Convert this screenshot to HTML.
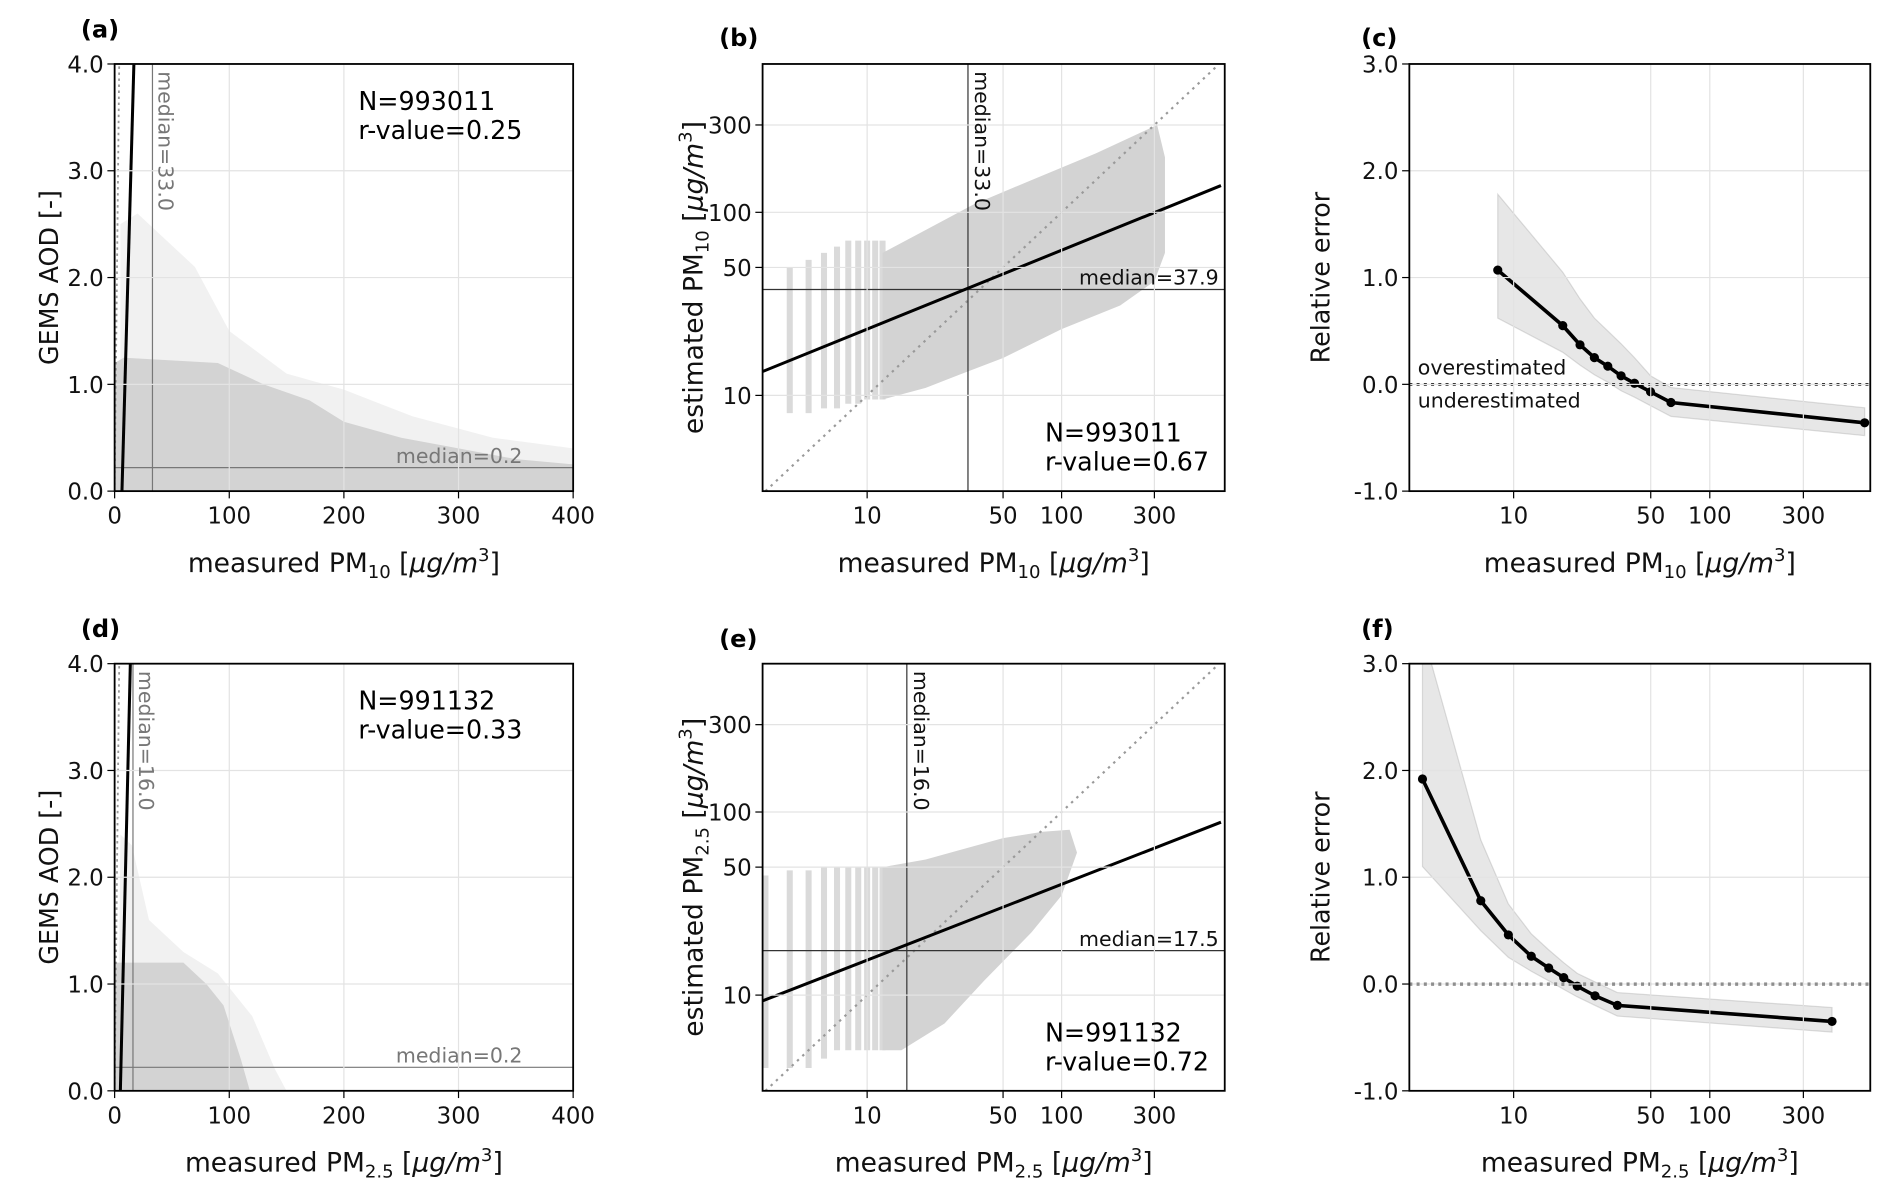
<!DOCTYPE html>
<html><head><meta charset="utf-8"><style>
html,body{margin:0;padding:0;background:#fff}
svg{display:block;font-family:"DejaVu Sans","Liberation Sans",sans-serif}
</style></head><body>
<svg id="fig" width="1892" height="1198" viewBox="0 0 1568 992.8" xmlns="http://www.w3.org/2000/svg"></svg>
<script>
// ---------- data ----------
const relXPm10 = [8.3, 17.8, 21.8, 25.8, 30.2, 35.3, 41.3, 49.9, 63.4, 616];
const relYPm10 = [1.07, 0.55, 0.37, 0.25, 0.17, 0.08, 0.01, -0.07, -0.17, -0.36];
const relUpPm10 = [1.78, 1.05, 0.8, 0.62, 0.5, 0.38, 0.25, 0.08, -0.03, -0.22];
const relLoPm10 = [0.62, 0.3, 0.18, 0.09, 0.02, -0.06, -0.12, -0.2, -0.3, -0.48];
const relXPm25 = [3.43, 6.8, 9.4, 12.3, 15.1, 18, 21.1, 26, 33.8, 420];
const relYPm25 = [1.92, 0.78, 0.46, 0.26, 0.15, 0.06, -0.02, -0.11, -0.2, -0.35];
const relUpPm25 = [3.3, 1.35, 0.75, 0.47, 0.32, 0.2, 0.1, 0.02, -0.08, -0.22];
const relLoPm25 = [1.1, 0.5, 0.25, 0.12, 0.03, -0.05, -0.12, -0.2, -0.3, -0.45];
const cloudA = [[0,0],[0,1.2],[8,1.25],[90,1.2],[130,1.0],[170,0.85],[200,0.65],[250,0.5],[300,0.4],[350,0.3],[400,0.25],[400,0]];
const fringeA = [[5,0],[5,2.5],[20,2.6],[40,2.4],[70,2.1],[100,1.5],[150,1.1],[200,0.95],[260,0.7],[330,0.5],[400,0.4],[400,0]];
const cloudD = [[0,0],[0,1.2],[60,1.2],[80,1.0],[95,0.8],[110,0.3],[118,0]];
const fringeD = [[3,0],[5,2.4],[15,2.3],[30,1.6],[60,1.3],[90,1.1],[120,0.7],[140,0.2],[150,0]];
const cloudB = [[12,9.5],[12,60],[20,80],[35,110],[70,150],[150,210],[250,270],[310,300],[340,200],[340,60],[300,42],[200,31],[100,23],[50,16],[30,13],[20,11]];
const cloudE = [[12,5],[12,50],[20,55],[30,62],[50,72],[80,78],[110,80],[120,60],[100,35],[70,22],[40,12],[25,7],[15,5]];
const stripeXB = [4,5,6,7,8,9,10,11,12];
const stripeTopB = [50,55,60,65,70,70,70,70,70];
const stripeBotB = [8,8,8.5,8.5,9,9,9.5,9.5,9.5];
const stripeXE = [3,4,5,6,7,8,9,10,11,12];
const stripeTopE = [45,48,48,50,50,50,50,50,50,50];
const stripeBotE = [4,4,4,4.5,5,5,5,5,5,5];
const linTicks = [0,100,200,300,400];
const aodTicks = [0,1,2,3,4];
const logTicks = [10,50,100,300];
const relTicks = [-1,0,1,2,3];
const regA = [[6.4,0],[16.8,4]];
const regD = [[5,0],[13.7,4]];
const regB = [[2.9,13.5],[660,140]];
const regE = [[2.9,9.3],[660,88]];
const medB = [33, 37.9];
const medE = [16, 17.5];
const medA = [33, 0.22];
const medD = [16, 0.22];

const NS = "http://www.w3.org/2000/svg";
const svg = document.getElementById('fig');
function mk(tag, attrs, parent){
  const e = document.createElementNS(NS, tag);
  for (const k in attrs) e.setAttribute(k, attrs[k]);
  (parent||svg).appendChild(e);
  return e;
}
function linScale(d0,d1,r0,r1){return v=>r0+(v-d0)/(d1-d0)*(r1-r0);}
function logScale(d0,d1,r0,r1){return v=>r0+(Math.log10(v)-Math.log10(d0))/(Math.log10(d1)-Math.log10(d0))*(r1-r0);}

function pmLabel(g, x, y, pre, sub, rotate){
  const t = mk('text',{x:x,y:y,'font-size':22,'text-anchor':'middle',fill:'#111'},g);
  if (rotate) t.setAttribute('transform','rotate(-90 '+x+' '+y+')');
  t.appendChild(document.createTextNode(pre+'PM'));
  const s = mk('tspan',{'font-size':15,dy:5},t); s.textContent = sub;
  const r = mk('tspan',{dy:-5},t); r.textContent=' [';
  const it = mk('tspan',{'font-style':'italic'},t); it.textContent='μg/m';
  const sp = mk('tspan',{'font-size':15,dy:-9},t); sp.textContent='3';
  const e = mk('tspan',{dy:9},t); e.textContent=']';
  return t;
}

function axesFrame(g, L,R,T,B){
  mk('rect',{x:L,y:T,width:R-L,height:B-T,fill:'none',stroke:'#000','stroke-width':1.5},g);
}
function gridX(g,sx,ticks,T,B,labels){
  ticks.forEach((v,i)=>{
    const x=sx(v);
    const gl=mk('line',{x1:x,x2:x,y1:T,y2:B,stroke:'#e3e3e3','stroke-width':1},g);
    
    
    mk('line',{x1:x,x2:x,y1:B,y2:B+6,stroke:'#000','stroke-width':1},g);
    const t=mk('text',{x:x,y:B+27,'font-size':19,'text-anchor':'middle',fill:'#111'},g);
    
    
    t.textContent=labels[i];
  });
}
function gridY(g,sy,ticks,L,R,labels){
  ticks.forEach((v,i)=>{
    const y=sy(v);
    const gl=mk('line',{x1:L,x2:R,y1:y,y2:y,stroke:'#e3e3e3','stroke-width':1},g);
    
    
    mk('line',{x1:L-6,x2:L,y1:y,y2:y,stroke:'#000','stroke-width':1},g);
    const t=mk('text',{x:L-9,y:y+7,'font-size':19,'text-anchor':'end',fill:'#111'},g);
    
    
    t.textContent=labels[i];
  });
}
function poly(g,pts,sx,sy,fill){
  return mk('polygon',{points:pts.map(p=>sx(p[0])+','+sy(p[1])).join(' '),fill:fill},g);
}
function panelLabel(x,y,txt){
  const t=mk('text',{x:x,y:y,'font-size':20,'font-weight':'bold',fill:'#000'});
  
  
  t.textContent=txt;
}
function stats(g,x,y,n,r){
  const t1=mk('text',{x:x,y:y,'font-size':21,fill:'#000'},g); t1.textContent='N='+n;
  
  
  const t2=mk('text',{x:x,y:y+24,'font-size':21,fill:'#000'},g); t2.textContent='r-value='+r;
  
  
}

// ---------- AOD panels (a, d) ----------
function aodPanel(name,T,B,cloud,fringe,reg,med,n,r,sub){
  const L=95,R=475;
  const g=mk('g',{});
  
  
  const sx=linScale(0,400,L,R), sy=linScale(0,4,B,T);
  const cp=mk('clipPath',{id:'clip-'+name},g); mk('rect',{x:L,y:T,width:R-L,height:B-T},cp);
  const inner=mk('g',{'clip-path':'url(#clip-'+name+')'},g);
  gridX(g,sx,linTicks,T,B,linTicks.map(String));
  gridY(g,sy,aodTicks,L,R,aodTicks.map(v=>v.toFixed(1)));
  const f=poly(inner,fringe,sx,sy,'#f1f1f1');
  
  
  const c=poly(inner,cloud,sx,sy,'#d3d3d3');
  
  
  const one=mk('line',{x1:sx(0),y1:sy(0),x2:sx(4),y2:sy(4),stroke:'#999','stroke-width':1.5,'stroke-dasharray':'2,3'},inner);
  
  
  const mv=mk('line',{x1:sx(med[0]),x2:sx(med[0]),y1:T,y2:B,stroke:'#777','stroke-width':1},inner);
  
  
  const mh=mk('line',{x1:L,x2:R,y1:sy(med[1]),y2:sy(med[1]),stroke:'#777','stroke-width':1},inner);
  
  
  const rl=mk('line',{x1:sx(reg[0][0]),y1:sy(reg[0][1]),x2:sx(reg[1][0]),y2:sy(reg[1][1]),stroke:'#000','stroke-width':2.5},inner);
  
  
  const mxl=sx(med[0])+5, myl=T+6;
  const t=mk('text',{x:mxl,y:myl,'font-size':17,fill:'#777',transform:'rotate(90 '+mxl+' '+myl+')'},g);
  
  
  t.textContent='median='+med[0].toFixed(1);
  const t2=mk('text',{x:433,y:sy(med[1])-4,'font-size':17,fill:'#777','text-anchor':'end'},g);
  
  
  t2.textContent='median=0.2';
  axesFrame(g,L,R,T,B);
  stats(g,297,T+38,n,r);
  const yl=mk('text',{x:48,y:(T+B)/2,'font-size':21,'text-anchor':'middle',fill:'#111',transform:'rotate(-90 48 '+((T+B)/2)+')'},g);
  
  
  yl.textContent='GEMS AOD [-]';
  const xl=pmLabel(g,(L+R)/2,B+67,'measured ',sub,false);
  
  
}

// ---------- log-log panels (b, e) ----------
function estPanel(name,T,B,cloud,sx_,stTop,stBot,stX,reg,med,n,r,sub){
  const L=632,R=1015;
  const g=mk('g',{});
  
  
  const sx=logScale(2.9,690,L,R), sy=logScale(3.0,646,B,T);
  const cp=mk('clipPath',{id:'clip-'+name},g); mk('rect',{x:L,y:T,width:R-L,height:B-T},cp);
  const inner=mk('g',{'clip-path':'url(#clip-'+name+')'},g);
  gridX(g,sx,logTicks,T,B,logTicks.map(String));
  gridY(g,sy,logTicks,L,R,logTicks.map(String));
  stX.forEach((xv,i)=>{
    const s=mk('line',{x1:sx(xv),x2:sx(xv),y1:sy(stBot[i]),y2:sy(stTop[i]),stroke:'#dadada','stroke-width':5},inner);
    
    
  });
  const c=poly(inner,cloud,sx,sy,'#d3d3d3');
  
  
  const one=mk('line',{x1:sx(3),y1:sy(3),x2:sx(640),y2:sy(640),stroke:'#999','stroke-width':1.8,'stroke-dasharray':'2,4'},inner);
  
  
  const mv=mk('line',{x1:sx(med[0]),x2:sx(med[0]),y1:T,y2:B,stroke:'#333','stroke-width':1},inner);
  
  
  const mh=mk('line',{x1:L,x2:R,y1:sy(med[1]),y2:sy(med[1]),stroke:'#333','stroke-width':1},inner);
  
  
  const rl=mk('line',{x1:sx(reg[0][0]),y1:sy(reg[0][1]),x2:sx(reg[1][0]),y2:sy(reg[1][1]),stroke:'#000','stroke-width':2.5},inner);
  
  
  const mxl=sx(med[0])+6, myl=T+6;
  const t=mk('text',{x:mxl,y:myl,'font-size':17,fill:'#111',transform:'rotate(90 '+mxl+' '+myl+')'},g);
  
  
  t.textContent='median='+med[0].toFixed(1);
  const t2=mk('text',{x:1010,y:sy(med[1])-4,'font-size':17,fill:'#111','text-anchor':'end'},g);
  
  
  t2.textContent='median='+med[1].toFixed(1);
  axesFrame(g,L,R,T,B);
  stats(g,866,B-41,n,r);
  const yl=pmLabel(g,582,(T+B)/2,'estimated ',sub,true);
  
  
  const xl=pmLabel(g,(L+R)/2,B+67,'measured ',sub,false);
  
  
}

// ---------- relative error panels (c, f) ----------
function relPanel(name,T,B,xs,ys,up,lo,sub,showText){
  const L=1168,R=1550;
  const g=mk('g',{});
  
  
  const sx=logScale(2.94,658,L,R), sy=linScale(-1,3,B,T);
  const cp=mk('clipPath',{id:'clip-'+name},g); mk('rect',{x:L,y:T,width:R-L,height:B-T},cp);
  const inner=mk('g',{'clip-path':'url(#clip-'+name+')'},g);
  gridX(g,sx,logTicks,T,B,logTicks.map(String));
  gridY(g,sy,relTicks,L,R,relTicks.map(v=>v.toFixed(1)));
  const band=xs.map((x,i)=>[x,up[i]]).concat(xs.map((x,i)=>[x,lo[i]]).reverse());
  const b=poly(inner,band,sx,sy,'rgba(160,160,160,0.25)');
  b.setAttribute('stroke','rgba(150,150,150,0.3)');
  
  
  const z=mk('line',{x1:L,x2:R,y1:sy(0),y2:sy(0),stroke:'#000','stroke-width':2.2,'stroke-dasharray':'2.5,3.5'},inner);
  
  
  const pl=mk('polyline',{points:xs.map((x,i)=>sx(x)+','+sy(ys[i])).join(' '),fill:'none',stroke:'#000','stroke-width':3},inner);
  
  
  xs.forEach((x,i)=>{
    const c=mk('circle',{cx:sx(x),cy:sy(ys[i]),r:3.8,fill:'#000'},inner);
    
    
  });
  if(showText){
    const o=mk('text',{x:1175,y:sy(0)-8,'font-size':17,fill:'#111'},g); o.textContent='overestimated';
    
    
    const u=mk('text',{x:1175,y:sy(0)+19,'font-size':17,fill:'#111'},g); u.textContent='underestimated';
    
    
  }
  axesFrame(g,L,R,T,B);
  const cy=(T+B)/2;
  const yl=mk('text',{x:1102,y:cy,'font-size':21,'text-anchor':'middle',fill:'#111',transform:'rotate(-90 1102 '+cy+')'},g);
  
  
  yl.textContent='Relative error';
  const xl=pmLabel(g,(L+R)/2,B+67,'measured ',sub,false);
  
  
}

aodPanel('panel-a',53,407,cloudA,fringeA,regA,medA,'993011','0.25','10');
estPanel('panel-b',53,407,cloudB,null,stripeTopB,stripeBotB,stripeXB,regB,medB,'993011','0.67','10');
relPanel('panel-c',53,407,relXPm10,relYPm10,relUpPm10,relLoPm10,'10',true);
aodPanel('panel-d',550,904,cloudD,fringeD,regD,medD,'991132','0.33','2.5');
estPanel('panel-e',550,904,cloudE,null,stripeTopE,stripeBotE,stripeXE,regE,medE,'991132','0.72','2.5');
relPanel('panel-f',550,904,relXPm25,relYPm25,relUpPm25,relLoPm25,'2.5',false);
panelLabel(67,31,'(a)');
panelLabel(596,38,'(b)');
panelLabel(1128,38,'(c)');
panelLabel(67,528,'(d)');
panelLabel(596,536,'(e)');
panelLabel(1128,528,'(f)');
</script>
</body></html>
